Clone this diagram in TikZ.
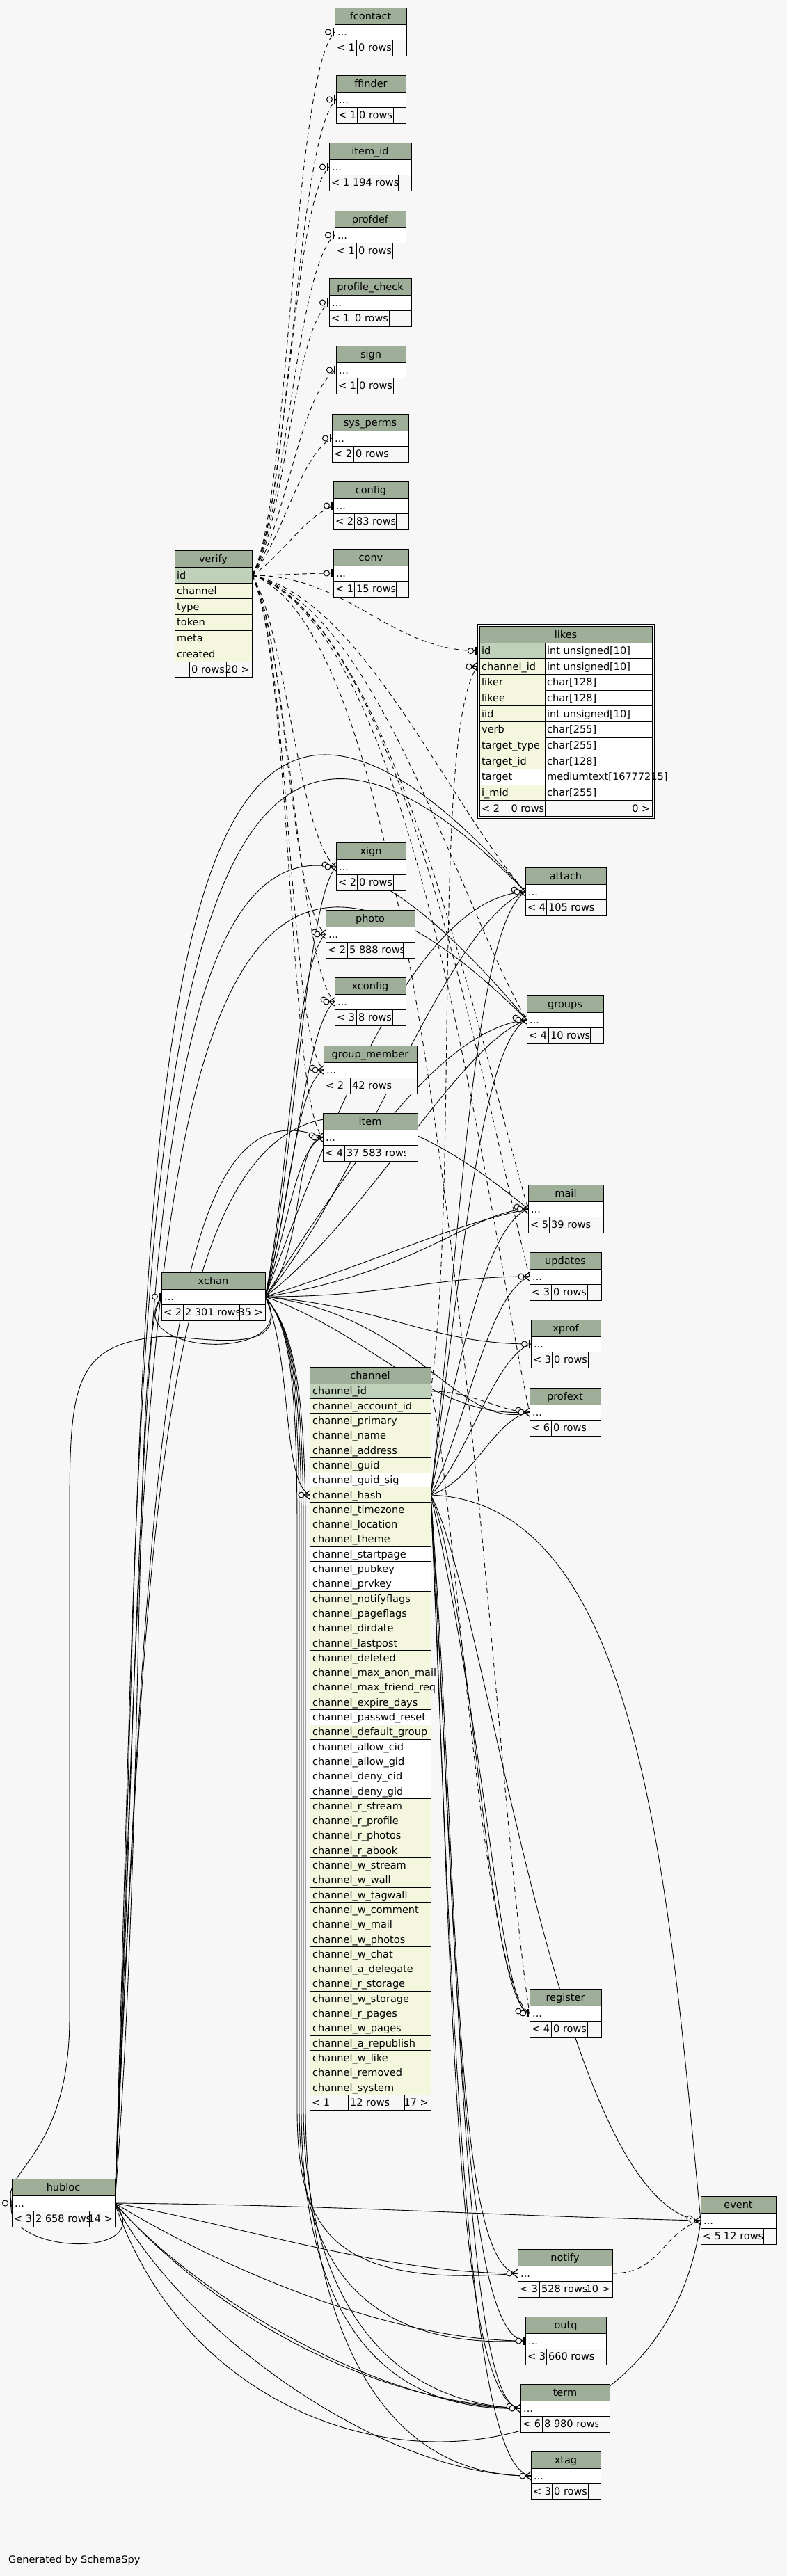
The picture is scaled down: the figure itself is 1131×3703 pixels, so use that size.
\documentclass[tikz,border=0pt]{standalone}
\usepackage{fontspec}
\setmainfont{DejaVu Sans}
\usetikzlibrary{calc}
\definecolor{bgc}{HTML}{F7F7F7}
\definecolor{hdr}{HTML}{9EAE98}
\definecolor{pkc}{HTML}{BFD1B9}
\definecolor{ylw}{HTML}{F4F7DE}
\newcommand{\fs}{\fontsize{14.5}{17}\selectfont}
\tikzset{
 txt/.style={inner sep=0pt, font=\fs, text=black},
 tline/.style={line width=1pt, black},
 tnode/.style={inner sep=0pt, anchor=north west},
 rel/.style={line width=0.9pt, black},
 irel/.style={rel, dash pattern=on 7pt off 5pt},
}
\newif\ifvis
\newcommand{\rtxt}{}
\newcommand{\rh}{21.3}
% name, x1, y1, x2, title, split1, split2, left text, rows text
\newcommand{\stab}[9]{%
 \pgfmathsetmacro{\tabw}{#4-#2}%
 \ifvis
 \fill[white] (#2,#3+24) rectangle (#4,#3+46);
 \fill[hdr] (#2,#3) rectangle (#4,#3+24);
 \fill[bgc] (#2,#3+46) rectangle (#4,#3+69);
 \node[txt,anchor=base] at ({(#2+#4)/2},#3+17) {#5};
 \node[txt,anchor=base west] at (#2+4,#3+40) {...};
 \node[txt,anchor=base west] at (#2+3,#3+62.5) {#8};
 \node[txt,anchor=base west] at (#6+3,#3+62.5) {#9};
 \fill[bgc] (#7,#3+46.5) rectangle (#4-0.5,#3+68.5);
 \node[txt,anchor=base east] at (#4-3,#3+62.5) {\rtxt};
 \draw[tline] (#2,#3+24) -- (#4,#3+24) (#2,#3+46) -- (#4,#3+46)
   (#6,#3+46) -- (#6,#3+69) (#7,#3+46) -- (#7,#3+69);
 \draw[tline] (#2,#3) rectangle (#4,#3+69);
 \else
 \node[tnode, minimum width=\tabw pt, minimum height=69pt] (#1) at (#2,#3) {};
 \coordinate (#1-in) at (#2,#3+35);
 \coordinate (#1-out) at (#4,#3+35);
 \fi
}
\newcommand{\verifytab}{%
 \ifvis
 \fill[ylw] (251,815.7) rectangle (362,951.3);
 \fill[pkc] (251,815.7) rectangle (362,838.3);
 \fill[hdr] (251,791.3) rectangle (362,815.7);
 \fill[bgc] (251,951.3) rectangle (362,973.3);
 \node[txt,anchor=base] at (306.5,808.5) {verify};
 \foreach \nm [count=\i from 0] in {id,channel,type,token,meta,created}{
   \node[txt,anchor=base west] at (254,{815.7+(\i+0.5)*22.6+5}) {\nm};
   \draw[tline] (251,{815.7+(\i+1)*22.6}) -- (362,{815.7+(\i+1)*22.6});
 }
 \draw[tline] (251,815.7) -- (362,815.7) (272,951.3) -- (272,973.3) (325,951.3) -- (325,973.3);
 \node[txt,anchor=base west] at (275,967.3) {0 rows};
 \node[txt,anchor=base east] at (359,967.3) {20 >};
 \draw[tline] (251,791.3) rectangle (362,973.3);
 \else
 \node[tnode, minimum width=111pt, minimum height=182pt] (verify) at (251,791.3) {};
 \coordinate (verify-out) at (362,827);
 \fi
}
\newcommand{\likestab}{%
 \ifvis
 \fill[white] (689,900) rectangle (937.5,1173);
 \fill[hdr] (689,900) rectangle (937.5,924.3);
 \fill[bgc] (689,1150.8) rectangle (937.5,1173);
 \node[txt,anchor=base] at (813,917.3) {likes};
 \foreach \nm/\ty/\rc [count=\i from 0] in {id/int unsigned[10]/pkc, channel\_id/int unsigned[10]/ylw, liker/char[128]/ylw, likee/char[128]/ylw, iid/int unsigned[10]/ylw, verb/char[255]/ylw, target\_type/char[255]/ylw, target\_id/char[128]/ylw, target/mediumtext[16777215]/white, i\_mid/char[255]/ylw}{
   \fill[\rc] (689,{924.3+\i*22.65}) rectangle (783.3,{924.3+(\i+1)*22.65});
   \node[txt,anchor=base west] at (692,{924.3+(\i+0.5)*22.65+5}) {\nm};
   \node[txt,anchor=base west] at (786,{924.3+(\i+0.5)*22.65+5}) {\ty};
   \draw[tline] (689,{924.3+(\i+1)*22.65}) -- (937.5,{924.3+(\i+1)*22.65});
 }
 \draw[tline] (689,924.3) -- (937.5,924.3) (783.3,924.3) -- (783.3,1173) (731.3,1150.8) -- (731.3,1173);
 \node[txt,anchor=base west] at (692,1167) {< 2};
 \node[txt,anchor=base west] at (734.3,1167) {0 rows};
 \node[txt,anchor=base east] at (934.5,1167) {0 >};
 \draw[tline] (689,900) rectangle (937.5,1173);
 \draw[tline] (686,897) rectangle (940.5,1176);
 \else
 \node[tnode, minimum width=254.5pt, minimum height=279pt] (likes) at (686,897) {};
 \coordinate (likes-id-in) at (686,935.6);
 \coordinate (likes-cid-in) at (686,958.3);
 \fi
}
\newcommand{\channeltab}{%
 \ifvis
 \fill[hdr] (445,1965.4) rectangle (619,1989.3);
 \node[txt,anchor=base] at (532,1982.3) {channel};
 \foreach \nm/\rc [count=\i from 0] in {channel\_id/pkc, channel\_account\_id/ylw, channel\_primary/ylw, channel\_name/ylw, channel\_address/ylw, channel\_guid/ylw, channel\_guid\_sig/white, channel\_hash/ylw, channel\_timezone/ylw, channel\_location/ylw, channel\_theme/ylw, channel\_startpage/white, channel\_pubkey/white, channel\_prvkey/white, channel\_notifyflags/ylw, channel\_pageflags/ylw, channel\_dirdate/ylw, channel\_lastpost/ylw, channel\_deleted/ylw, channel\_max\_anon\_mail/ylw, channel\_max\_friend\_req/ylw, channel\_expire\_days/ylw, channel\_passwd\_reset/white, channel\_default\_group/ylw, channel\_allow\_cid/white, channel\_allow\_gid/white, channel\_deny\_cid/white, channel\_deny\_gid/white, channel\_r\_stream/ylw, channel\_r\_profile/ylw, channel\_r\_photos/ylw, channel\_r\_abook/ylw, channel\_w\_stream/ylw, channel\_w\_wall/ylw, channel\_w\_tagwall/ylw, channel\_w\_comment/ylw, channel\_w\_mail/ylw, channel\_w\_photos/ylw, channel\_w\_chat/ylw, channel\_a\_delegate/ylw, channel\_r\_storage/ylw, channel\_w\_storage/ylw, channel\_r\_pages/ylw, channel\_w\_pages/ylw, channel\_a\_republish/ylw, channel\_w\_like/ylw, channel\_removed/ylw, channel\_system/ylw}{
   \fill[\rc] (445,{1989.3+\i*\rh}) rectangle (619,{1989.3+(\i+1)*\rh});
   \node[txt,anchor=base west] at (449,{1989.3+(\i+0.5)*\rh+5}) {\nm};
   \draw[tline] (445,{1989.3+(\i+1)*\rh}) -- (619,{1989.3+(\i+1)*\rh});
 }
 \fill[bgc] (445,{1989.3+48*\rh}) rectangle (619,{1989.3+48*\rh+22});
 \draw[tline] (445,1989.3) -- (619,1989.3) (500,{1989.3+48*\rh}) -- (500,{1989.3+48*\rh+22}) (581,{1989.3+48*\rh}) -- (581,{1989.3+48*\rh+22});
 \node[txt,anchor=base west] at (448,{1989.3+48*\rh+16}) {< 1};
 \node[txt,anchor=base west] at (503,{1989.3+48*\rh+16}) {12 rows};
 \node[txt,anchor=base east] at (616,{1989.3+48*\rh+16}) {17 >};
 \draw[tline] (445,1965.4) rectangle (619,{1989.3+48*\rh+22});
 \else
 \node[tnode, minimum width=174pt, minimum height={(23.9+48*\rh+22)*1pt}] (channel) at (445,1965.4) {};
 \coordinate (chid-out) at (619,{1989.3+0.5*\rh});
 \coordinate (chhash-out) at (619,{1989.3+7.5*\rh});
 \coordinate (chhash-in) at (445,{1989.3+7.5*\rh});
 \fi
}
\newcommand{\alltables}{%
\renewcommand{\rtxt}{}%
\stab{fcontact}{481}{11}{584}{fcontact}{512}{564}{< 1}{0 rows}
\stab{ffinder}{483}{108}{583}{ffinder}{513}{565}{< 1}{0 rows}
\stab{item_id}{473}{205}{591}{item\_id}{504}{572}{< 1}{194 rows}
\stab{profdef}{481}{303}{583}{profdef}{512}{564}{< 1}{0 rows}
\stab{profile_check}{473}{400}{591}{profile\_check}{507}{559}{< 1}{0 rows}
\stab{sign}{483}{497}{583}{sign}{513}{565}{< 1}{0 rows}
\stab{sys_perms}{477}{595}{587}{sys\_perms}{508}{560}{< 2}{0 rows}
\stab{config}{479}{692}{587}{config}{509}{569}{< 2}{83 rows}
\stab{conv}{479}{789}{587}{conv}{509}{569}{< 1}{15 rows}
\stab{xign}{483}{1211}{583}{xign}{513}{565}{< 2}{0 rows}
\stab{photo}{468}{1308}{596}{photo}{499}{579}{< 2}{5 888 rows}
\stab{xconfig}{481}{1405}{583}{xconfig}{512}{564}{< 3}{8 rows}
\stab{group_member}{465}{1503}{599}{group\_member}{503}{563}{< 2}{42 rows}
\stab{item}{464}{1600}{600}{item}{495}{583}{< 4}{37 583 rows}
\stab{attach}{755}{1247}{871}{attach}{785}{853}{< 4}{105 rows}
\stab{groups}{757}{1431}{867}{groups}{788}{848}{< 4}{10 rows}
\stab{mail}{759}{1703}{867}{mail}{789}{849}{< 5}{39 rows}
\stab{updates}{761}{1800}{864}{updates}{792}{844}{< 3}{0 rows}
\stab{xprof}{763}{1897}{863}{xprof}{793}{845}{< 3}{0 rows}
\stab{profext}{761}{1995}{863}{profext}{792}{843}{< 6}{0 rows}
\stab{register}{761}{2859}{864}{register}{792}{844}{< 4}{0 rows}
\stab{event}{1007}{3157}{1115}{event}{1037}{1097}{< 5}{12 rows}
\stab{outq}{755}{3330}{871}{outq}{785}{853}{< 3}{660 rows}
\stab{term}{748}{3427}{876}{term}{779}{859}{< 6}{8 980 rows}
\stab{xtag}{763}{3524}{863}{xtag}{793}{845}{< 3}{0 rows}
\renewcommand{\rtxt}{35 >}%
\stab{xchan}{232}{1829}{381}{xchan}{263}{344}{< 2}{2 301 rows}
\renewcommand{\rtxt}{14 >}%
\stab{hubloc}{17}{3132}{165}{hubloc}{48}{128}{< 3}{2 658 rows}
\renewcommand{\rtxt}{10 >}%
\stab{notify}{744}{3233}{880}{notify}{775}{843}{< 3}{528 rows}
\renewcommand{\rtxt}{}%
\verifytab
\likestab
\channeltab
}
\newcommand{\mbar}[1]{%
 \draw[line width=2.6pt] ($(#1)+(-2,-6)$) -- ($(#1)+(-2,6)$);
 \draw[line width=1pt, fill=bgc] ($(#1)+(-9.5,0)$) circle[radius=4pt];}
\newcommand{\mcrow}[1]{%
 \draw[line width=1.2pt] ($(#1)+(0,-6)$) -- ($(#1)+(-8,0)$) -- ($(#1)+(0,6)$) ($(#1)+(-8,0)$) -- (#1);
 \draw[line width=1pt, fill=bgc] ($(#1)+(-12,0)$) circle[radius=4pt];}
\begin{document}
\begin{tikzpicture}[x=1pt,y=-1pt]
\useasboundingbox (0,0) rectangle (1131,3703);
\fill[bgc] (0,0) rectangle (1131,3703);

% pass 1: named nodes and anchor coordinates
\visfalse
\alltables

% relationships (drawn before the table faces)
\foreach \tg/\pa/\pb/\pc/\pd in {fcontact/415/740/420/110, ffinder/415/745/425/200, item_id/412/750/420/290, profdef/410/755/425/385, profile_check/410/760/420/475, sign/408/770/430/565, sys_perms/405/780/430/655, config/405/800/435/745, conv/400/827/440/824, likes-id/500/827/560/935, xign/410/900/430/1210, photo/412/910/415/1300, xconfig/414/920/430/1395, group_member/416/930/415/1490, item/418/940/415/1590, attach/520/860/640/1150, groups/540/870/660/1300, mail/560/880/690/1500, updates/580/890/700/1600, profext/600/900/700/1750, register/640/920/700/2500}
  \draw[irel] (verify-out) .. controls (\pa,\pb) and (\pc,\pd) .. (\tg-in);

\foreach \tg/\pa/\pb/\pc/\pd in {xign/420/1700/440/1290, photo/415/1700/425/1380, xconfig/420/1720/440/1470, group_member/415/1740/425/1560, item/415/1760/425/1650, item/440/1800/420/1640, attach/520/1700/640/1330, attach/480/1600/600/1290, groups/530/1750/660/1500, groups/500/1680/630/1480, mail/550/1810/650/1760, mail/600/1830/680/1740, updates/560/1864/620/1835, xprof/560/1880/620/1932, profext/540/1920/620/2040, profext/600/1890/660/2060, chhash/420/1950/405/2130, xchan/440/1960/170/1950}
  \draw[rel] (xchan-out) .. controls (\pa,\pb) and (\pc,\pd) .. (\tg-in);

\foreach \tg/\vx/\pc/\pd in {notify/427/470/3290, outq/430/480/3380, term/433/470/3470, term/436/490/3450, xtag/439/480/3560}
  \draw[rel] (xchan-out) .. controls (410,1900) and (\vx,1950) .. (\vx,2200) -- (\vx,3030)
    .. controls (\vx,3200) and (\pc,\pd) .. (\tg-in);

\foreach \tg/\pa/\pb/\pc/\pd in {attach/220/1800/150/600, attach/210/1850/170/680, groups/225/1850/165/760, groups/215/1900/190/900, item/215/2000/250/1550, mail/220/2000/230/1300, xchan/210/2600/190/1920, event/500/3170/700/3185, notify/350/3200/550/3268, outq/300/3250/550/3365, term/280/3300/550/3462, term/300/3320/520/3450, xtag/260/3350/550/3560, event/320/3620/950/3620, hubloc/230/3250/0/3240}
  \draw[rel] (hubloc-out) .. controls (\pa,\pb) and (\pc,\pd) .. (\tg-in);

\draw[rel] (xchan-out) .. controls (430,1960) and (260,1915) .. (225,1922)
  .. controls (100,1935) and (100,2000) .. (100,2200) -- (100,2900)
  .. controls (100,3100) and (0,3120) .. (hubloc-in);

\foreach \tg/\pa/\pb/\pc/\pd in {attach/660/1800/680/1330, groups/660/1850/690/1500, mail/660/1950/700/1760, updates/670/2050/700/1860, xprof/670/2100/710/1950, profext/680/2130/710/2040, register/680/2300/700/2880, register/700/2500/720/2900, event/920/2160/960/2700, event/700/2300/800/3170, notify/660/2700/650/3260, outq/655/2750/660/3360, term/650/2800/650/3450, term/660/2850/670/3465, xtag/650/2900/670/3550}
  \draw[rel] (chhash-out) .. controls (\pa,\pb) and (\pc,\pd) .. (\tg-in);

\foreach \tg/\pa/\pb/\pc/\pd in {likes-cid/660/1700/620/1050, profext/680/2000/720/2030, register/650/2100/690/2850}
  \draw[irel] (chid-out) .. controls (\pa,\pb) and (\pc,\pd) .. (\tg-in);

\draw[irel] (notify-out) .. controls (950,3268) and (950,3210) .. (event-in);

% pass 2: table faces
\vistrue
\alltables

\node[txt,anchor=base west] (gen) at (12,3684) {Generated by SchemaSpy};

% markers
\foreach \tg in {item,attach,groups,mail,profext,event,register,xign,photo,xconfig,group_member,term}
  \draw[line width=1pt, fill=bgc] ($(\tg-in)+(-16,-3)$) circle[radius=4pt];
\foreach \tg in {fcontact,ffinder,item_id,profdef,profile_check,sign,sys_perms,config,conv,likes-id,xprof,outq,xchan,hubloc,register}
  \mbar{\tg-in};
\foreach \tg in {xign,photo,xconfig,group_member,item,attach,groups,mail,profext,event,updates,notify,term,xtag,chhash,likes-cid}
  \mcrow{\tg-in};
\end{tikzpicture}
\end{document}
